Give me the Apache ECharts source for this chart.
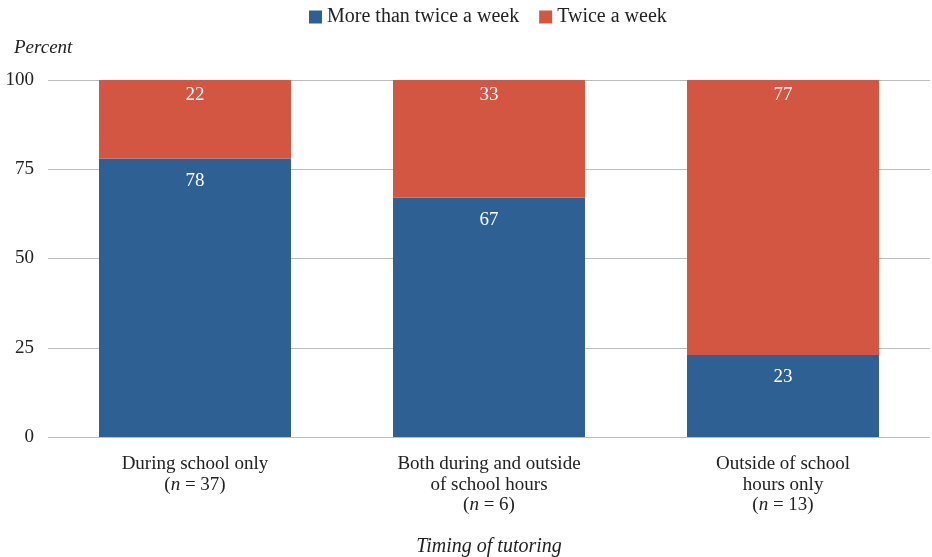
<!DOCTYPE html>
<html>
<head>
<meta charset="utf-8">
<script src="https://cdn.jsdelivr.net/npm/echarts@6/dist/echarts.min.js"></script>
<style>
  html, body { margin: 0; padding: 0; background: #fff; }
  #chart { width: 932px; height: 557px; }
</style>
</head>
<body>
<div id="chart"></div>
<script>
// Tutoring frequency by timing of tutoring
const categories = [
  'During school only\n({i|n} = 37)',
  'Both during and outside\nof school hours\n({i|n} = 6)',
  'Outside of school\nhours only\n({i|n} = 13)'
];
const moreThanTwice = [78, 67, 23];
const twiceAWeek = [22, 33, 77];
const yTicks = [0, 25, 50, 75, 100];

const FONT = '"Liberation Serif", "DejaVu Serif", serif';
const BLUE = '#2e6094';
const RED = '#d35642';
const TEXT = '#222222';

const chart = echarts.init(document.getElementById('chart'), null, { renderer: 'canvas' });

function valueLabel(distance) {
  return {
    show: true,
    position: 'insideTop',
    distance: distance,
    color: '#ffffff',
    fontFamily: FONT,
    fontSize: 19
  };
}

chart.setOption({
  animation: false,
  textStyle: { fontFamily: FONT },
  title: {
    text: 'Percent',
    left: 9,
    top: 33,
    textStyle: { fontFamily: FONT, fontStyle: 'italic', fontWeight: 'normal', fontSize: 19, color: TEXT }
  },
  legend: {
    top: 2,
    left: 304,
    itemWidth: 13,
    itemHeight: 13,
    itemGap: 20,
    icon: 'rect',
    textStyle: { fontFamily: FONT, fontSize: 20, color: TEXT },
    data: ['More than twice a week', 'Twice a week']
  },
  grid: { left: 48, right: 2, top: 80, bottom: 120, outerBoundsMode: 'none', containLabel: false },
  xAxis: {
    type: 'category',
    data: categories,
    axisLine: { show: false },
    axisTick: { show: false },
    axisLabel: {
      margin: 17,
      fontFamily: FONT,
      fontSize: 19,
      lineHeight: 20.5,
      color: TEXT,
      interval: 0,
      rich: { i: { fontStyle: 'italic', fontFamily: FONT, fontSize: 19, color: TEXT, lineHeight: 20.5 } }
    },
    name: 'Timing of tutoring',
    nameLocation: 'middle',
    nameGap: 100,
    nameTextStyle: { fontFamily: FONT, fontStyle: 'italic', fontSize: 20, color: TEXT }
  },
  yAxis: {
    type: 'value',
    min: yTicks[0],
    max: yTicks[yTicks.length - 1],
    interval: yTicks[1] - yTicks[0],
    axisLine: { show: false },
    axisTick: { show: false },
    axisLabel: { margin: 14, fontFamily: FONT, fontSize: 19, color: TEXT },
    splitLine: { lineStyle: { color: '#bdbdbd', width: 1 } }
  },
  series: [
    {
      name: 'More than twice a week',
      type: 'bar',
      stack: 'total',
      barWidth: '65.3%',
      itemStyle: { color: BLUE },
      label: valueLabel(13),
      data: moreThanTwice
    },
    {
      name: 'Twice a week',
      type: 'bar',
      stack: 'total',
      barWidth: '65.3%',
      itemStyle: { color: RED },
      label: valueLabel(6),
      data: twiceAWeek
    }
  ]
});
</script>
</body>
</html>
